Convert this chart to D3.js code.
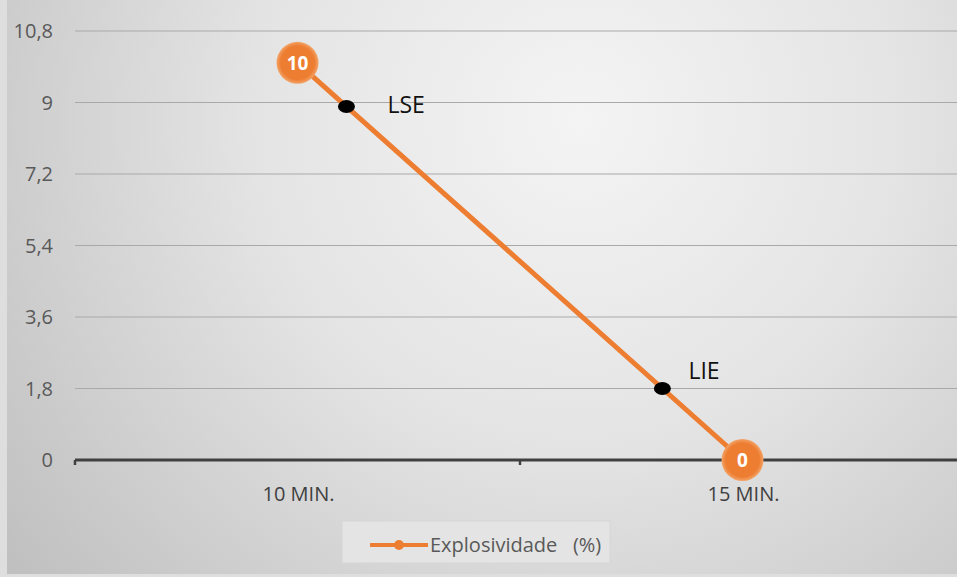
<!DOCTYPE html>
<html>
<head>
<meta charset="utf-8">
<script src="https://cdn.jsdelivr.net/npm/d3@7"></script>
<style>
  html, body { margin: 0; padding: 0; background: #dedede; }
  svg { display: block; }
  text { font-family: "Open Sans", "Noto Sans", sans-serif; }
</style>
</head>
<body>
<svg id="chart" width="957" height="577"></svg>
<script>
// Categories on the horizontal axis
const categories = ["10 MIN.", "15 MIN."];
// Explosiveness (%) per category
const explosividade = [10, 0];
// Reference markers on the line: position along the segment (0 = first category, 1 = second) and value
const markerNames = ["LSE", "LIE"];
const markerPos = [0.11, 0.82];
const markerValues = [8.9, 1.8];
// Value axis ticks and their labels
const yTicks = [0, 1.8, 3.6, 5.4, 7.2, 9, 10.8];
const yTickLabels = ["0", "1,8", "3,6", "5,4", "7,2", "9", "10,8"];
const seriesName = "Explosividade   (%)";

const W = 957, H = 577;
const svg = d3.select("#chart");
const orange = "#ED7D31";

// Background with a soft radial shading
const defs = svg.append("defs");
const grad = defs.append("radialGradient")
  .attr("id", "bg").attr("gradientUnits", "userSpaceOnUse")
  .attr("cx", 580).attr("cy", 120).attr("r", 720);
grad.append("stop").attr("offset", 0).attr("stop-color", "#f4f4f4");
grad.append("stop").attr("offset", 0.45).attr("stop-color", "#e4e4e4");
grad.append("stop").attr("offset", 1).attr("stop-color", "#c0c0c0");

const dl = defs.append("radialGradient").attr("id", "dl");
dl.append("stop").attr("offset", 0.8).attr("stop-color", orange);
dl.append("stop").attr("offset", 1).attr("stop-color", "#f3a469");

svg.append("rect").attr("x", 7).attr("y", 0).attr("width", W - 7).attr("height", 574)
  .attr("fill", "url(#bg)");

// Scales
const plotLeft = 75, plotRight = 965;
const x = d3.scaleBand().domain(categories).range([plotLeft, plotRight]);
const xc = d => x(d) + x.bandwidth() / 2;
const y = d3.scaleLinear().domain([0, 10.8]).range([460, 31]);
const along = d3.scaleLinear().domain([0, 1]).range([xc(categories[0]), xc(categories[1])]);

// Gridlines
svg.append("g").selectAll("line").data(yTicks.filter(t => t > 0)).join("line")
  .attr("x1", plotLeft).attr("x2", W)
  .attr("y1", d => y(d)).attr("y2", d => y(d))
  .attr("stroke", "#a9a9a9").attr("stroke-width", 1.2);

// Y tick labels
svg.append("g").selectAll("text").data(yTicks).join("text")
  .attr("x", 53).attr("y", d => y(d)).attr("dy", "0.35em")
  .attr("text-anchor", "end").attr("font-size", 20).attr("fill", "#595959")
  .text((d, i) => yTickLabels[i]);

// Category axis line with ticks at band boundaries
svg.append("line").attr("x1", plotLeft).attr("x2", W)
  .attr("y1", y(0)).attr("y2", y(0))
  .attr("stroke", "#404040").attr("stroke-width", 3);
const boundaries = [plotLeft, x(categories[1])];
svg.append("g").selectAll("line").data(boundaries).join("line")
  .attr("x1", d => d).attr("x2", d => d)
  .attr("y1", y(0)).attr("y2", y(0) + 5)
  .attr("stroke", "#404040").attr("stroke-width", 2.5);

// Category labels
svg.append("g").selectAll("text").data(categories).join("text")
  .attr("x", d => xc(d) + 1).attr("y", 501)
  .attr("text-anchor", "middle").attr("font-size", 20).attr("fill", "#404040")
  .text(d => d);

// Series line
const pts = categories.map((c, i) => [xc(c), y(explosividade[i])]);
svg.append("path").attr("d", d3.line()(pts))
  .attr("fill", "none").attr("stroke", orange).attr("stroke-width", 5)
  .attr("stroke-linecap", "round");

// LSE / LIE markers
markerNames.forEach((name, i) => {
  const mx = along(markerPos[i]), my = y(markerValues[i]);
  svg.append("ellipse").attr("cx", mx).attr("cy", my).attr("rx", 8.5).attr("ry", 6.5)
    .attr("fill", "#000");
});
svg.append("text").attr("x", along(markerPos[0]) + 41).attr("y", y(markerValues[0]) + 7)
  .attr("font-size", 23).attr("fill", "#111").text(markerNames[0]);
svg.append("text").attr("x", along(markerPos[1]) + 26).attr("y", y(markerValues[1]) - 10)
  .attr("font-size", 23).attr("fill", "#111").text(markerNames[1]);

// Data labels in orange circles
const lbl = svg.append("g").selectAll("g").data(categories).join("g")
  .attr("transform", (d, i) => `translate(${xc(d)},${y(explosividade[i])})`);
lbl.append("circle").attr("r", 21).attr("fill", "url(#dl)");
lbl.append("text").attr("text-anchor", "middle").attr("dy", "0.36em")
  .attr("font-size", 19).attr("font-weight", "bold").attr("fill", "#fff")
  .text((d, i) => explosividade[i]);

// Legend
const lg = svg.append("g");
lg.append("rect").attr("x", 342).attr("y", 521).attr("width", 268).attr("height", 42)
  .attr("fill", "#e4e4e4").attr("stroke", "#d6d6d6").attr("stroke-width", 1);
lg.append("line").attr("x1", 370).attr("x2", 428).attr("y1", 545).attr("y2", 545)
  .attr("stroke", orange).attr("stroke-width", 4);
lg.append("circle").attr("cx", 399).attr("cy", 545).attr("r", 5).attr("fill", orange);
lg.append("text").attr("x", 430).attr("y", 545).attr("dy", "0.35em")
  .attr("font-size", 20).attr("fill", "#595959")
  .attr("xml:space", "preserve").style("white-space", "pre")
  .text(seriesName);
</script>
</body>
</html>
